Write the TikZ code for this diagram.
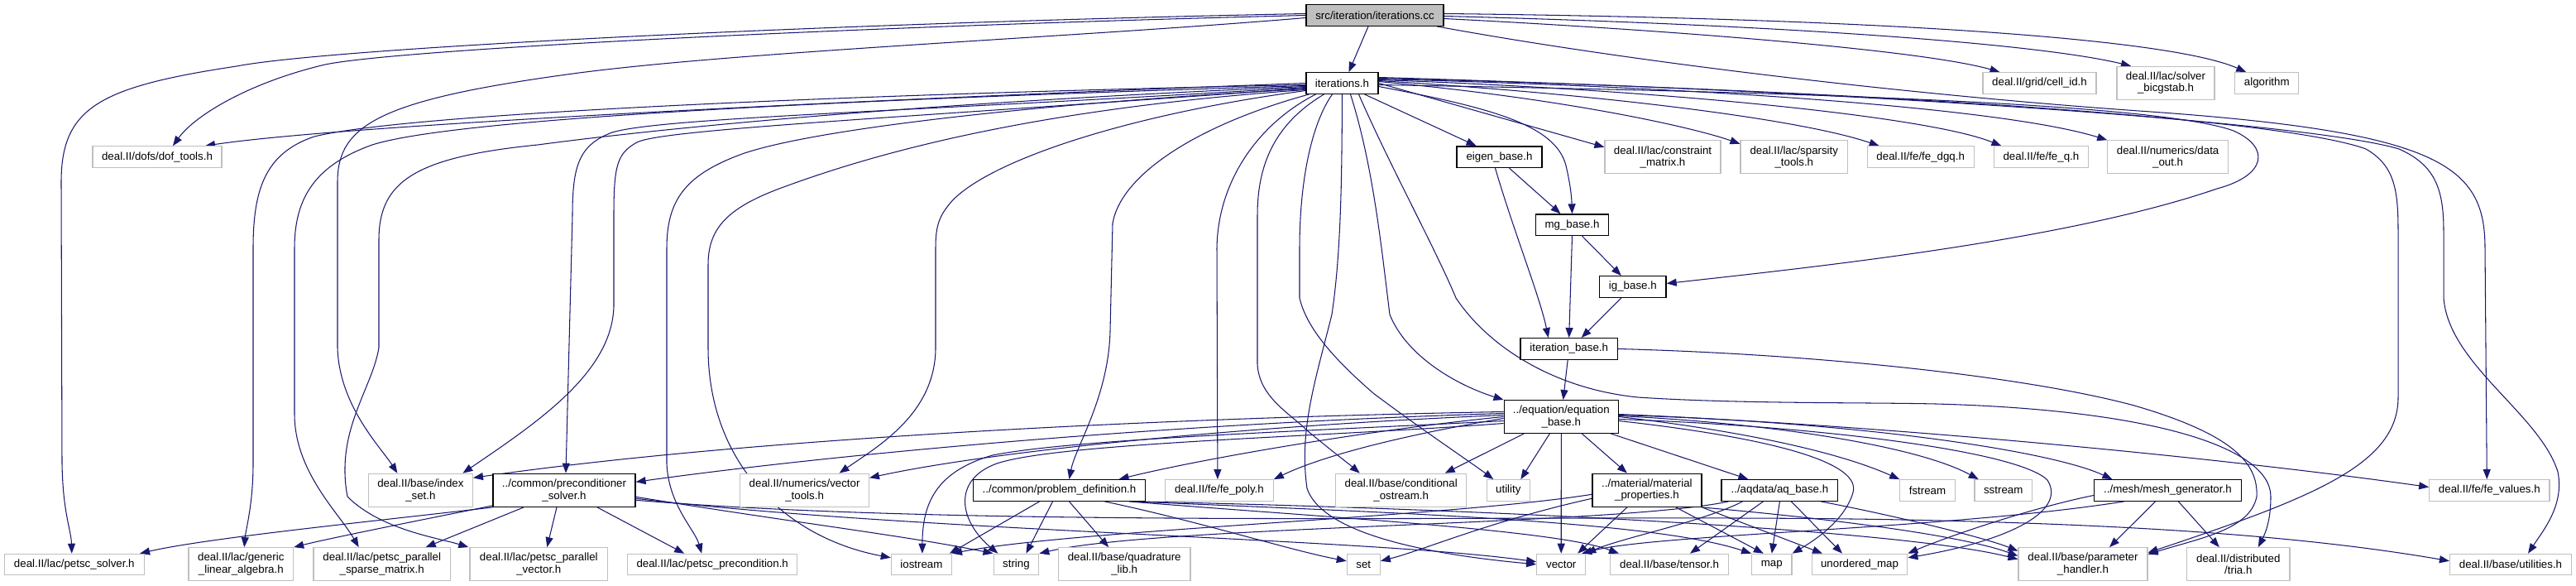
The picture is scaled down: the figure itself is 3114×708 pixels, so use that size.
\documentclass[tikz,border=0pt]{standalone}
\usepackage{fontspec}
\setmainfont{Liberation Sans}
\usetikzlibrary{arrows.meta}
\definecolor{navy}{RGB}{25,25,112}
\definecolor{g75}{RGB}{191,191,191}
\pgfdeclarelayer{bg}
\pgfsetlayers{bg,main}
\begin{document}
\begin{tikzpicture}[x=1pt,y=-1pt,
  box/.style={rectangle, fill=white, inner sep=0pt, align=center, font=\fontsize{13.3pt}{14.5pt}\selectfont},
  ext/.style={box, draw=g75, line width=1.2pt},
  int/.style={box, draw=black, line width=1.3pt},
  lk/.style={draw=navy, line width=1.05pt, -{Triangle[length=12pt,width=9pt]}}]
\useasboundingbox (0,0) rectangle (3114,708);
% ---- nodes ----
\node[int, fill=g75, minimum width=166pt, minimum height=25.6pt] (S) at (1662,18.5) {src/iteration/iterations.cc};
\node[int, minimum width=87pt, minimum height=25.6pt] (I) at (1622.5,100.5) {iterations.h};
\node[ext, minimum width=137pt, minimum height=25.6pt] (cellid) at (2465.5,100.5) {deal.II/grid/cell\_id.h};
\node[ext, minimum width=118pt, minimum height=40pt] (bicg) at (2618,100.3) {deal.II/lac/solver\\\_bicgstab.h};
\node[ext, minimum width=77pt, minimum height=25.6pt] (algo) at (2740.3,100.5) {algorithm};
\node[ext, minimum width=156pt, minimum height=25.6pt] (doft) at (190,189.7) {deal.II/dofs/dof\_tools.h};
\node[int, minimum width=103pt, minimum height=25.6pt] (eigen) at (1812.5,189.7) {eigen\_base.h};
\node[ext, minimum width=140pt, minimum height=40pt] (cons) at (2010,189.8) {deal.II/lac/constraint\\\_matrix.h};
\node[ext, minimum width=129.5pt, minimum height=40pt] (spars) at (2168.8,189.8) {deal.II/lac/sparsity\\\_tools.h};
\node[ext, minimum width=129pt, minimum height=25.6pt] (dgq) at (2321.7,189.7) {deal.II/fe/fe\_dgq.h};
\node[ext, minimum width=113.5pt, minimum height=25.6pt] (feq) at (2467.4,189.7) {deal.II/fe/fe\_q.h};
\node[ext, minimum width=145.6pt, minimum height=40pt] (dout) at (2620.6,189.8) {deal.II/numerics/data\\\_out.h};
\node[int, minimum width=88pt, minimum height=25.6pt] (mg) at (1900.5,271.8) {mg\_base.h};
\node[int, minimum width=80.5pt, minimum height=25.6pt] (ig) at (1973.8,346.5) {ig\_base.h};
\node[int, minimum width=117.4pt, minimum height=25.6pt] (itb) at (1896.7,421.5) {iteration\_base.h};
\node[int, minimum width=138.2pt, minimum height=39.6pt] (E) at (1887.3,503.5) {../equation/equation\\\_base.h};
\node[ext, minimum width=126pt, minimum height=40pt] (idx) at (508.4,592.3) {deal.II/base/index\\\_set.h};
\node[int, minimum width=172pt, minimum height=40pt] (P) at (682,592.3) {../common/preconditioner\\\_solver.h};
\node[ext, minimum width=155.6pt, minimum height=40pt] (vtools) at (972.6,592.3) {deal.II/numerics/vector\\\_tools.h};
\node[int, minimum width=208pt, minimum height=25.6pt] (PD) at (1280.5,592.5) {../common/problem\_definition.h};
\node[ext, minimum width=130.6pt, minimum height=25.6pt] (fepoly) at (1473.9,592.5) {deal.II/fe/fe\_poly.h};
\node[ext, minimum width=158pt, minimum height=40pt] (condos) at (1693.7,592.3) {deal.II/base/conditional\\\_ostream.h};
\node[ext, minimum width=52pt, minimum height=25.6pt] (util) at (1823.3,592.5) {utility};
\node[int, minimum width=132pt, minimum height=40pt] (M) at (1990.9,592.3) {../material/material\\\_properties.h};
\node[int, minimum width=140.7pt, minimum height=25.6pt] (A) at (2151.4,592.5) {../aqdata/aq\_base.h};
\node[ext, minimum width=66.5pt, minimum height=25.6pt] (fstr) at (2330,592.5) {fstream};
\node[ext, minimum width=69.6pt, minimum height=25.6pt] (sstr) at (2421.7,592.5) {sstream};
\node[int, minimum width=177.7pt, minimum height=25.6pt] (MG) at (2620.4,592.5) {../mesh/mesh\_generator.h};
\node[ext, minimum width=145.2pt, minimum height=25.6pt] (fev) at (3009.3,592.5) {deal.II/fe/fe\_values.h};
\node[ext, minimum width=169.4pt, minimum height=25pt] (psolv) at (89.8,681.8) {deal.II/lac/petsc\_solver.h};
\node[ext, minimum width=126.6pt, minimum height=40pt] (gla) at (291.3,681.7) {deal.II/lac/generic\\\_linear\_algebra.h};
\node[ext, minimum width=165.4pt, minimum height=40pt] (psm) at (461.7,681.7) {deal.II/lac/petsc\_parallel\\\_sparse\_matrix.h};
\node[ext, minimum width=166.8pt, minimum height=40pt] (pvec) at (651.3,681.7) {deal.II/lac/petsc\_parallel\\\_vector.h};
\node[ext, minimum width=205pt, minimum height=25pt] (ppre) at (861.2,681.8) {deal.II/lac/petsc\_precondition.h};
\node[ext, minimum width=73pt, minimum height=25pt] (ios) at (1113.9,681.8) {iostream};
\node[ext, minimum width=54.6pt, minimum height=25pt] (str) at (1228.4,681.8) {string};
\node[ext, minimum width=159.7pt, minimum height=40pt] (quad) at (1359.2,681.7) {deal.II/base/quadrature\\\_lib.h};
\node[ext, minimum width=40pt, minimum height=25pt] (set) at (1648.3,681.8) {set};
\node[ext, minimum width=59pt, minimum height=25pt] (vec) at (1887.2,681.8) {vector};
\node[ext, minimum width=142.6pt, minimum height=25pt] (tens) at (2018,681.8) {deal.II/base/tensor.h};
\node[ext, minimum width=48.3pt, minimum height=25pt] (map) at (2141.8,681.8) {map};
\node[ext, minimum width=115.6pt, minimum height=25pt] (umap) at (2248,681.8) {unordered\_map};
\node[ext, minimum width=156pt, minimum height=40pt] (param) at (2518,681.7) {deal.II/base/parameter\\\_handler.h};
\node[ext, minimum width=124.3pt, minimum height=40pt] (tria) at (2705.8,681.7) {deal.II/distributed\\/tria.h};
\node[ext, minimum width=147pt, minimum height=25pt] (utils) at (3035,681.8) {deal.II/base/utilities.h};
% ---- edges ----
\begin{pgfonlayer}{bg}
\fill[white] (0,0) rectangle (3114,708);
% from iterations.cc
\draw[lk] ([xshift=-8pt]S.south) -- ([xshift=8pt]I.north);
\draw[lk] ([yshift=-4pt]S.east) .. controls (2050,38) and (2330,62) .. ([xshift=-48pt]cellid.north);
\draw[lk] ([yshift=-1pt]S.east) .. controls (2150,30) and (2460,52) .. ([xshift=-42pt]bicg.north);
\draw[lk] ([yshift=2pt]S.east) .. controls (2250,22) and (2620,45) .. ([xshift=-25pt]algo.north);
\draw[lk] ([xshift=75pt]S.south) .. controls (2000,80) and (2350,118) .. (2600,135) .. controls (2950,160) and (3004,200) .. (3004,300) -- ([xshift=-3pt]fev.north);
\draw[lk] (S.west) .. controls (1000,33) and (480,60) .. (393,78) .. controls (300,100) and (235,140) .. ([xshift=19pt]doft.north);
\draw[lk] ([yshift=2pt]S.west) .. controls (1000,28) and (400,58) .. (286,80) .. controls (120,105) and (74,130) .. (74,220) -- (75,560) .. controls (76,620) and (86,640) .. ([xshift=-3pt]psolv.north);
\draw[lk] ([yshift=-3pt]S.west) .. controls (1300,45) and (900,62) .. (700,88) .. controls (460,120) and (408,150) .. (408,220) -- (408,420) .. controls (410,490) and (460,540) .. ([xshift=-28pt]idx.north);
% from iterations.h, to the left
\draw[lk] (I.west) .. controls (1100,118) and (420,150) .. ([xshift=58pt]doft.north);
\draw[lk] ([yshift=-2pt]I.west) .. controls (1100,112) and (500,135) .. (380,165) .. controls (320,185) and (306,230) .. (306,300) -- (306,560) .. controls (306,610) and (297,640) .. ([xshift=4pt]gla.north);
\draw[lk] ([yshift=-3pt]I.west) .. controls (1100,118) and (560,140) .. (450,175) .. controls (380,200) and (356,240) .. (356,300) -- (356,500) .. controls (356,570) and (410,620) .. ([xshift=-28pt]psm.north);
\draw[lk] ([yshift=-4pt]I.west) .. controls (1100,125) and (800,155) .. (650,175) .. controls (500,190) and (458,220) .. (458,290) -- (458,420) .. controls (450,470) and (405,520) .. (420,600) .. controls (460,640) and (530,650) .. ([xshift=-85pt]pvec.north);
\draw[lk] ([yshift=-5pt]I.west) .. controls (1100,135) and (800,142) .. (740,160) .. controls (700,175) and (692,200) .. (692,260) -- ([xshift=2pt]P.north);
\draw[lk] ([yshift=-6pt]I.west) .. controls (1100,142) and (800,156) .. (770,172) .. controls (746,185) and (742,200) .. (742,260) -- (742,370) .. controls (740,450) and (650,510) .. ([xshift=51pt]idx.north);
\draw[lk] ([yshift=-7pt]I.west) .. controls (1300,122) and (1000,152) .. (900,185) .. controls (830,210) and (806,240) .. (806,300) -- (806,560) .. controls (808,610) and (840,640) .. ([xshift=-13pt]ppre.north);
\draw[lk] ([yshift=-8pt]I.west) .. controls (1300,128) and (1100,170) .. (950,225) .. controls (880,250) and (856,275) .. (856,320) -- (856,420) .. controls (856,560) and (950,650) .. ([yshift=8pt]ios.west);
\draw[lk] ([yshift=-9pt]I.west) .. controls (1350,140) and (1180,200) .. (1145,250) .. controls (1133,265) and (1131,280) .. (1131,300) -- (1131,420) .. controls (1131,500) and (1060,540) .. ([xshift=42pt]vtools.north);
% from iterations.h, downwards
\draw[lk] ([xshift=-40pt]I.south) .. controls (1450,150) and (1355,210) .. (1345,270) -- (1342,400) .. controls (1340,480) and (1300,540) .. ([xshift=12pt]PD.north);
\draw[lk] ([xshift=-32pt]I.south) .. controls (1520,150) and (1472,220) .. (1471,300) -- ([xshift=-2pt]fepoly.north);
\draw[lk] ([xshift=-22pt]I.south) .. controls (1540,150) and (1520,200) .. (1520,260) -- (1520,440) .. controls (1522,480) and (1560,500) .. (1580,520) .. controls (1610,545) and (1630,560) .. ([xshift=-50pt]condos.north);
\draw[lk] ([xshift=-12pt]I.south) .. controls (1585,150) and (1571,220) .. (1571,300) -- (1571,360) .. controls (1580,400) and (1620,440) .. (1660,475) .. controls (1720,520) and (1780,560) .. ([xshift=-18pt]util.north);
\draw[lk] (I.south) .. controls (1622,200) and (1622,300) .. (1610,380) .. controls (1590,460) and (1570,520) .. (1580,590) .. controls (1600,650) and (1750,672) .. (vec.west);
\draw[lk] ([xshift=10pt]I.south) .. controls (1660,200) and (1670,300) .. (1680,380) .. controls (1700,430) and (1760,465) .. (E.north west);
\draw[lk] ([xshift=20pt]I.south) .. controls (1680,200) and (1735,300) .. (1760,360) .. controls (1800,420) and (1880,470) .. (1980,480) .. controls (2100,488) and (2250,486) .. (2340,488) .. controls (2600,495) and (2745,540) .. (2745,600) .. controls (2745,630) and (2738,645) .. ([xshift=24pt]tria.north);
% from iterations.h, to the right
\draw[lk] ([xshift=27pt]I.south) -- ([xshift=-28pt]eigen.north);
\draw[lk] ([yshift=-4pt]I.east) .. controls (1800,130) and (1880,150) .. (1893,200) .. controls (1900,230) and (1900,245) .. (mg.north);
\draw[lk] (I.east) -- ([yshift=12pt]cons.west);
\draw[lk] ([yshift=2pt]I.east) .. controls (1900,120) and (2050,155) .. ([yshift=16pt]spars.west);
\draw[lk] ([yshift=3pt]I.east) .. controls (1950,115) and (2180,145) .. ([xshift=-50pt]dgq.north);
\draw[lk] ([yshift=4pt]I.east) .. controls (2000,108) and (2330,140) .. ([xshift=-48pt]feq.north);
\draw[lk] ([yshift=5pt]I.east) .. controls (2050,105) and (2420,130) .. (dout.north west);
\draw[lk] ([yshift=-2pt]I.east) .. controls (2100,110) and (2600,122) .. (2700,158) .. controls (2745,178) and (2740,212) .. (2680,228) .. controls (2500,290) and (2200,322) .. ([yshift=4pt]ig.east);
\draw[lk] ([yshift=6pt]I.east) .. controls (2200,108) and (2750,140) .. (2860,180) .. controls (2895,200) and (2899,230) .. (2899,280) -- (2899,480) .. controls (2899,560) and (2800,600) .. ([yshift=14pt]param.east);
\draw[lk] ([yshift=7pt]I.east) .. controls (2300,112) and (2800,150) .. (2900,180) .. controls (2945,200) and (2954,230) .. (2954,280) -- (2954,360) .. controls (2960,440) and (3070,500) .. (3092,570) .. controls (3100,610) and (3075,640) .. ([xshift=21pt]utils.north);
% base classes
\draw[lk] ([xshift=12pt]eigen.south) -- ([xshift=-14pt]mg.north);
\draw[lk] ([xshift=-5pt]eigen.south) .. controls (1830,280) and (1862,360) .. ([xshift=-25pt]itb.north);
\draw[lk] (mg.south) -- (itb.north);
\draw[lk] ([xshift=12pt]mg.south) -- ([xshift=-14pt]ig.north);
\draw[lk] ([xshift=-14pt]ig.south) -- ([xshift=15pt]itb.north);
\draw[lk] (itb) -- (E);
\draw[lk] (itb.east) .. controls (2200,428) and (2450,455) .. (2580,490) .. controls (2700,525) and (2730,560) .. (2728,600) .. controls (2720,640) and (2660,650) .. ([yshift=12pt]param.east);
% from equation_base.h
\draw[lk] ([yshift=6pt]E.west) .. controls (1400,505) and (900,530) .. ([yshift=15pt]idx.east);
\draw[lk] ([yshift=4pt]E.west) .. controls (1400,512) and (1000,550) .. ([yshift=10pt]P.east);
\draw[lk] ([yshift=2pt]E.west) .. controls (1500,515) and (1200,545) .. ([yshift=15pt]vtools.east);
\draw[lk] (E.west) .. controls (1650,520) and (1450,555) .. ([xshift=72pt]PD.north);
\draw[lk] ([yshift=-2pt]E.west) .. controls (1700,525) and (1600,550) .. (fepoly.north east);
\draw[lk] ([xshift=-45pt]E.south) -- ([xshift=53pt]condos.north);
\draw[lk] ([xshift=-14pt]E.south) -- ([xshift=15pt]util.north);
\draw[lk] (E.south) -- (vec.north);
\draw[lk] ([xshift=25pt]E.south) -- ([xshift=-24pt]M.north);
\draw[lk] ([xshift=60pt]E.south) -- ([xshift=-38pt]A.north);
\draw[lk] ([yshift=-5pt]E.west) .. controls (1600,520) and (1300,530) .. (1200,550) .. controls (1130,570) and (1115,610) .. ([xshift=1pt]ios.north);
\draw[lk] ([yshift=-8pt]E.west) .. controls (1600,528) and (1280,535) .. (1205,560) .. controls (1150,580) and (1160,630) .. ([xshift=-22pt]str.north);
\draw[lk] ([yshift=3pt]E.east) .. controls (2300,515) and (2700,555) .. ([yshift=4pt]fev.west);
\draw[lk] (E.east) .. controls (2100,520) and (2220,545) .. (fstr.north west);
\draw[lk] ([yshift=1pt]E.east) .. controls (2150,512) and (2320,540) .. ([xshift=-30pt]sstr.north);
\draw[lk] ([yshift=2pt]E.east) .. controls (2250,510) and (2480,545) .. ([xshift=-67pt]MG.north);
\draw[lk] ([yshift=-5pt]E.east) .. controls (2150,530) and (2250,560) .. (2240,595) .. controls (2230,630) and (2190,655) .. (map.north east);
\draw[lk] ([yshift=-3pt]E.east) .. controls (2200,515) and (2440,545) .. (2475,580) .. controls (2500,620) and (2420,655) .. ([yshift=8pt]umap.east);
% from preconditioner_solver.h
\draw[lk] (P.south west) .. controls (450,630) and (250,650) .. ([xshift=-6pt]psolv.north east);
\draw[lk] ([yshift=2pt]P.south west) .. controls (500,630) and (400,650) .. (gla.north east);
\draw[lk] ([xshift=-49pt]P.south) -- ([xshift=53pt]psm.north);
\draw[lk] ([xshift=-9pt]P.south) -- ([xshift=10pt]pvec.north);
\draw[lk] ([xshift=40pt]P.south) -- ([xshift=-34pt]ppre.north);
\draw[lk] ([yshift=-8pt]P.east) .. controls (950,630) and (1100,648) .. (str.north west);
\draw[lk] ([yshift=-10pt]P.east) .. controls (1100,642) and (1650,650) .. ([yshift=3pt]vec.west);
\draw[lk] ([yshift=-12pt]P.east) .. controls (1200,640) and (1900,620) .. (2300,628) .. controls (2600,634) and (2800,650) .. ([yshift=4pt]utils.west);
% from problem_definition.h
\draw[lk] ([xshift=-24pt]PD.south) -- ([xshift=34pt]ios.north);
\draw[lk] ([xshift=-8pt]PD.south) -- ([xshift=12pt]str.north);
\draw[lk] ([xshift=12pt]PD.south) -- ([xshift=-19pt]quad.north);
\draw[lk] ([xshift=55pt]PD.south) .. controls (1450,630) and (1560,665) .. ([yshift=4pt]set.west);
\draw[lk] ([xshift=-20pt]PD.south east) .. controls (1600,625) and (1880,640) .. ([xshift=-61pt]tens.north);
\draw[lk] ([xshift=-15pt]PD.south east) .. controls (1700,620) and (2000,630) .. (map.north west);
\draw[lk] ([xshift=-10pt]PD.south east) .. controls (1800,615) and (2300,640) .. ([yshift=6pt]param.west);
% from material_properties.h
\draw[lk] ([yshift=-10pt]M.west) .. controls (1800,630) and (1720,665) .. ([yshift=4pt]set.east);
\draw[lk] ([xshift=-24pt]M.south) -- ([xshift=20pt]vec.north);
\draw[lk] ([xshift=35pt]M.south) -- ([xshift=-10pt]map.north);
\draw[lk] (M.south east) -- ([xshift=-45pt]umap.north);
\draw[lk] ([yshift=-5pt]M.west) .. controls (1750,625) and (1300,640) .. (ios.north east);
\draw[lk] (M.south east) .. controls (2250,630) and (2380,650) .. ([yshift=10pt]param.west);
% from aq_base.h
\draw[lk] ([xshift=-45pt]A.south) .. controls (2060,630) and (1960,650) .. (vec.north east);
\draw[lk] ([xshift=-20pt]A.south) -- ([xshift=25pt]tens.north);
\draw[lk] (A.south) -- (map.north);
\draw[lk] ([xshift=14pt]A.south) -- ([xshift=-21pt]umap.north);
\draw[lk] ([xshift=-62pt]A.south) .. controls (1950,635) and (1400,635) .. (str.north east);
\draw[lk] ([xshift=50pt]A.south) .. controls (2300,625) and (2400,650) .. ([yshift=16pt]param.west);
% from mesh_generator.h
\draw[lk] ([xshift=-15pt]MG.south) -- ([xshift=32pt]param.north);
\draw[lk] ([xshift=13pt]MG.south) -- ([xshift=-23pt]tria.north);
\draw[lk] ([yshift=-6pt]MG.west) .. controls (2450,615) and (2350,650) .. (umap.north east);
\draw[lk] ([xshift=-53pt]MG.south) .. controls (2350,640) and (2000,645) .. ([xshift=25pt]vec.north);
\end{pgfonlayer}
\end{tikzpicture}
\end{document}
